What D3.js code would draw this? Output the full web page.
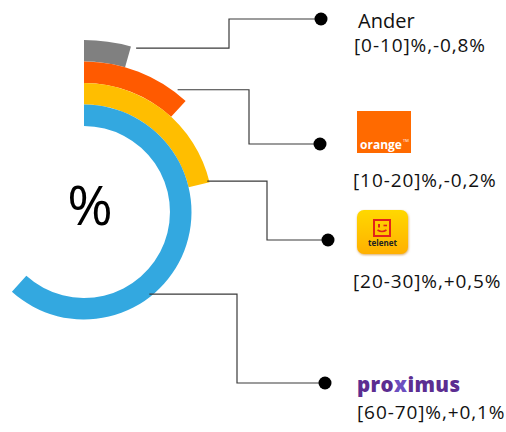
<!DOCTYPE html>
<html>
<head>
<meta charset="utf-8">
<script src="https://cdn.jsdelivr.net/npm/d3@7"></script>
<style>
  body { margin:0; background:#fff; }
  text { font-family: "Open Sans", Lato, sans-serif; }
</style>
</head>
<body>
<svg id="svg" width="506" height="432"></svg>
<script>
var operators = ["Ander", "Orange", "Telenet", "Proximus"],
    shares    = [4.4, 11.8, 21.3, 61.7],
    ranges    = ["[0-10]%", "[10-20]%", "[20-30]%", "[60-70]%"],
    changes   = ["-0,8%", "-0,2%", "+0,5%", "+0,1%"],
    colors    = ["#808080", "#ff5a00", "#ffbe00", "#33a8e0"];

var svg = d3.select("#svg"),
    defs = svg.append("defs");

var cx = 84, cy = 212;

var ang = d3.scaleLinear().domain([0, 100]).range([0, 2 * Math.PI]);
var rad = d3.scaleBand().domain(operators.slice().reverse()).range([86, 172]);

var data = operators.map((o, i) => ({name:o, share:shares[i], range:ranges[i], change:changes[i], color:colors[i]}));

var arc = d3.arc()
    .innerRadius(d => rad(d.name))
    .outerRadius(d => rad(d.name) + rad.bandwidth())
    .startAngle(0)
    .endAngle(d => ang(d.share));

var g = svg.append("g").attr("transform", "translate(" + cx + "," + cy + ")");
g.selectAll("path").data(data).enter()
    .append("path").attr("d", arc).attr("fill", d => d.color);

g.append("text").attr("x", 6).attr("y", 13).attr("text-anchor", "middle")
    .attr("font-size", 55).attr("font-family", "'Open Sans', sans-serif").text("%");

// leader lines: anchor on the arc (angle %, radius), elbow x, dot position
var leaders = [
  {a:4.9,  r:172, ex:229, dx:321, dy:19},
  {a:10.4, r:154, ex:249, dx:320, dy:144},
  {a:21.1, r:127, ex:267, dx:328, dy:240},
  {a:39.3, r:105, ex:237, dx:325, dy:383}
];
leaders.forEach(l => {
  var t = ang(l.a), x0 = cx + l.r * Math.sin(t), y0 = cy - l.r * Math.cos(t);
  svg.append("path")
      .attr("d", d3.line()([[x0, y0], [l.ex, y0], [l.ex, l.dy], [l.dx, l.dy]]))
      .attr("fill", "none").attr("stroke", "#3a3a3a").attr("stroke-width", 1.2);
  svg.append("circle").attr("cx", l.dx).attr("cy", l.dy).attr("r", 6.5).attr("fill", "#000");
});

// labels
var labelY = [52, 187, 288, 419], labelX = [354, 353, 353, 357];
svg.selectAll(".lab").data(data).enter().append("text")
    .attr("class", "lab")
    .attr("x", (d, i) => labelX[i]).attr("y", (d, i) => labelY[i])
    .attr("font-size", 19).attr("letter-spacing", 0.9).attr("fill", "#111")
    .text(d => d.range + "," + d.change);

svg.append("text").attr("x", 358).attr("y", 28).attr("font-size", 20).attr("fill", "#111").text("Ander");

// orange logo
var og = svg.append("g").attr("transform", "translate(357,111)");
og.append("rect").attr("width", 54).attr("height", 42).attr("fill", "#ff6a00");
og.append("text").attr("x", 3).attr("y", 38).attr("font-size", 12).attr("font-weight", "bold")
    .attr("fill", "#fff").attr("font-family", "'Liberation Sans', sans-serif").text("orange");
og.append("text").attr("x", 46).attr("y", 31).attr("font-size", 4).attr("fill", "#fff").text("TM");

// telenet logo
var grad = defs.append("linearGradient").attr("id", "tg").attr("x1", 0).attr("x2", 0).attr("y1", 0).attr("y2", 1);
grad.append("stop").attr("offset", 0).attr("stop-color", "#ffd800");
grad.append("stop").attr("offset", 1).attr("stop-color", "#ffb000");
var sh = defs.append("filter").attr("id", "sh").attr("x", -0.2).attr("y", -0.2).attr("width", 1.4).attr("height", 1.4);
sh.append("feDropShadow").attr("dx", 0.5).attr("dy", 1).attr("stdDeviation", 1).attr("flood-color", "#c07000").attr("flood-opacity", 0.6);
var tg = svg.append("g").attr("transform", "translate(357,210)");
tg.append("rect").attr("width", 51).attr("height", 44).attr("rx", 7).attr("fill", "url(#tg)").attr("filter", "url(#sh)");
tg.append("rect").attr("x", 17).attr("y", 10).attr("width", 16).attr("height", 16)
    .attr("fill", "none").attr("stroke", "#e2231a").attr("stroke-width", 2);
tg.append("rect").attr("x", 21).attr("y", 14).attr("width", 2).attr("height", 3.5).attr("fill", "#e2231a");
tg.append("path").attr("d", "M26.5 15.5h3.5").attr("stroke", "#e2231a").attr("stroke-width", 1.6);
tg.append("path").attr("d", "M20.5 20q4.5 3 9 0").attr("fill", "none").attr("stroke", "#e2231a").attr("stroke-width", 1.6);
tg.append("text").attr("x", 25.5).attr("y", 36).attr("text-anchor", "middle").attr("font-size", 8)
    .attr("font-weight", "bold").attr("fill", "#222").attr("font-family", "'Liberation Sans', sans-serif").text("telenet");

// proximus logo
svg.append("text").attr("x", 357).attr("y", 392).attr("font-size", 20.5).attr("font-weight", 800)
    .attr("fill", "#5c2d91").attr("font-family", "'Noto Sans', sans-serif").attr("letter-spacing", 0.4)
    .html('pro<tspan fill="#6c4fc0">x</tspan>imus');
</script>
</body>
</html>
